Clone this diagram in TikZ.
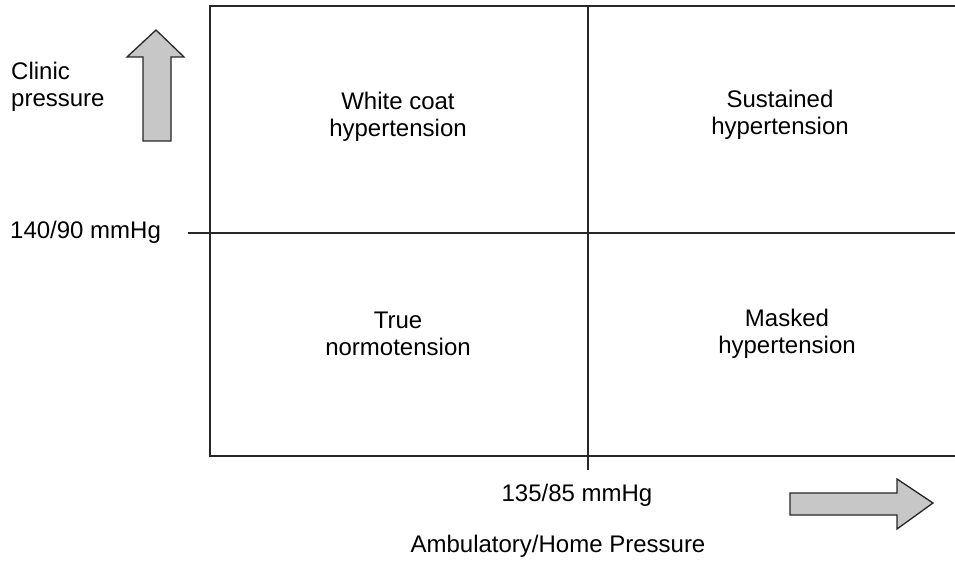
\documentclass[tikz,border=0pt]{standalone}
\usepackage{fontspec}
\setmainfont{Liberation Sans}
\usetikzlibrary{positioning}

\tikzset{
	grid line/.style = {line width=1.4pt, black!85},
	big arrow/.style = {line width=1.3pt, black!85, fill=black!22, line join=miter},
	label text/.style = {align=center, inner sep=0pt, font=\fontsize{24}{27}\selectfont},
	axis text/.style = {align=left, inner sep=0pt, font=\fontsize{24}{27}\selectfont}
}

\begin{document}
\begin{tikzpicture}[x=1pt, y=-1pt]
	\useasboundingbox (0,0) rectangle (955,564);
	\coordinate (tl) at (210,6);
	\coordinate (tr) at (955,6);
	\coordinate (bl) at (210,456);
	\coordinate (br) at (955,456);
	\coordinate (mt) at (588,6);
	\coordinate (mb) at (588,470);
	\coordinate (ml) at (188,233);
	\coordinate (mr) at (955,233);
	\draw[grid line] (tr) -- (tl) -- (bl) -- (br);
	\draw[grid line] (mt) -- (mb);
	\draw[grid line] (ml) -- (mr);
	\node[label text] (white) at (398,117) {White coat\\hypertension};
	\node[label text] (sustained) at (780,115) {Sustained\\hypertension};
	\node[label text] (normo) at (398,334) {True\\normotension};
	\node[label text] (masked) at (787,334) {Masked\\hypertension};
	\node[axis text, anchor = west] (clinic) at (11,87) {Clinic\\pressure};
	\node[axis text, anchor = west] (cut140) at (10,232) {140/90 mmHg};
	\node[label text] (cut135) at (577,495) {135/85 mmHg};
	\node[label text] (ambul) at (558,546) {Ambulatory/Home Pressure};
	\draw[big arrow] (143,141) -- (143,57) -- (127,57) -- (156,30) -- (184,57) -- (171,57) -- (171,141) -- cycle;
	\draw[big arrow] (790,493) -- (897,493) -- (897,479) -- (933,503) -- (897,529) -- (897,515) -- (790,515) -- cycle;
\end{tikzpicture}
\end{document}
